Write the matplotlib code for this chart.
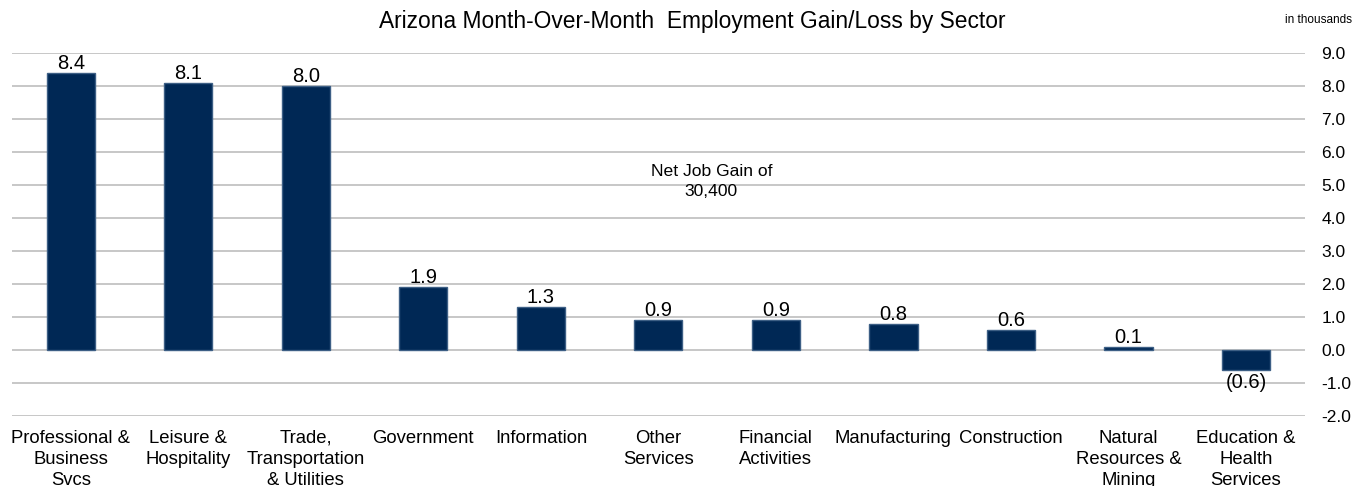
import matplotlib
matplotlib.use("Agg")
import matplotlib.pyplot as plt

plt.rcParams['font.family'] = ['Liberation Sans', 'DejaVu Sans']

categories = ["Professional &\nBusiness\nSvcs", "Leisure &\nHospitality",
              "Trade,\nTransportation\n& Utilities", "Government", "Information",
              "Other\nServices", "Financial\nActivities", "Manufacturing",
              "Construction", "Natural\nResources &\nMining", "Education &\nHealth\nServices"]
values = [8.4, 8.1, 8.0, 1.9, 1.3, 0.9, 0.9, 0.8, 0.6, 0.1, -0.6]
yticks = [-2.0, -1.0, 0.0, 1.0, 2.0, 3.0, 4.0, 5.0, 6.0, 7.0, 8.0, 9.0]

fig = plt.figure(figsize=(13.55, 4.86), dpi=100)
ax = fig.add_axes([0.0089, 0.144, 0.954, 0.747])

x = list(range(len(categories)))
ax.bar(x, values, width=0.41, color='#002855', edgecolor='#3d5f85', linewidth=1, zorder=3)
ax.set_xlim(-0.5, len(categories) - 0.5)
ax.set_ylim(-2.0, 9.0)
ax.set_yticks(yticks)
ax.set_yticklabels([f"{t:.1f}" for t in yticks], fontsize=12.5)
ax.yaxis.tick_right()
ax.tick_params(axis='y', length=0, pad=12)
ax.set_xticks(x)
ax.set_xticklabels(categories, fontsize=13.3, linespacing=1.3, va='top')
ax.tick_params(axis='x', length=0, pad=10)
ax.grid(axis='y', color='#bdbdbd', linewidth=1.2, zorder=0)
for s in ax.spines.values():
    s.set_visible(False)

for xi, v in zip(x, values):
    if v >= 0:
        ax.annotate(f"{v:.1f}", (xi, v), xytext=(0, 0), textcoords='offset points',
                    ha='center', va='bottom', fontsize=14.5)
    else:
        ax.annotate(f"({abs(v):.1f})", (xi, v), xytext=(0, -2), textcoords='offset points',
                    ha='center', va='top', fontsize=14.5)

ax.text(5.45, 5.1, "Net Job Gain of\n30,400", ha='center', va='center', fontsize=12.6, linespacing=1.45)

fig.text(0.511, 0.955, "Arizona Month-Over-Month  Employment Gain/Loss by Sector",
         ha='center', va='center', fontsize=16.4)
fig.text(0.998, 0.958, "in thousands", ha='right', va='center', fontsize=8.5)

fig.savefig("out.png", dpi=100)
